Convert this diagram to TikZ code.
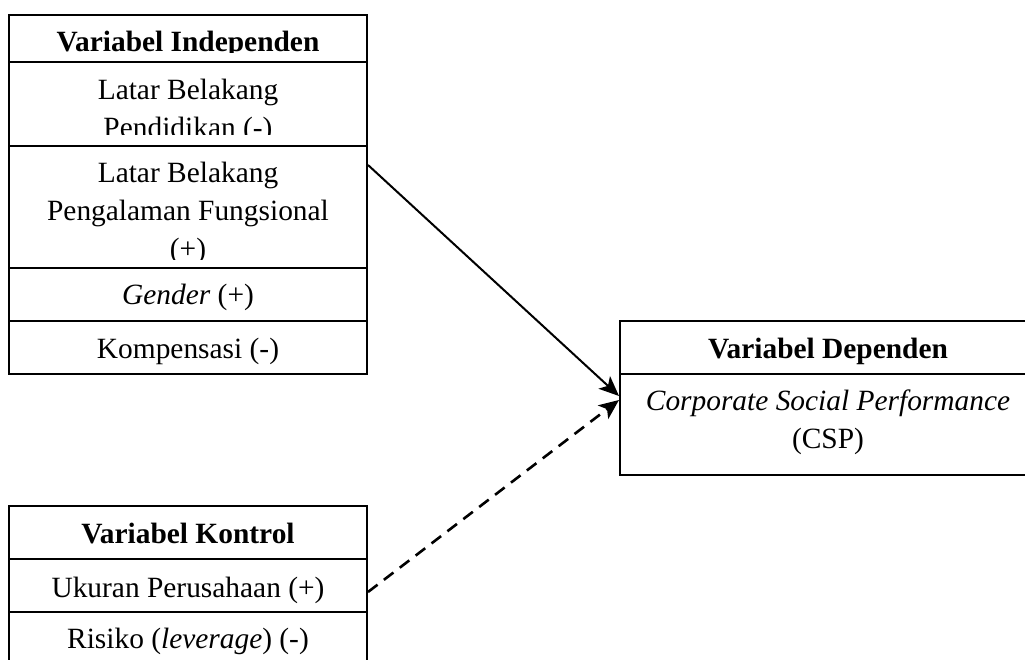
\documentclass[tikz,border=0pt]{standalone}
\usepackage{fontspec}
\setmainfont{Liberation Serif}
\usetikzlibrary{arrows.meta}
\begin{document}
\begin{tikzpicture}[x=1pt,y=-1pt,
  box/.style={line width=2.4pt,draw=black},
  cell/.style={anchor=base,inner sep=0pt,align=center,font=\fontsize{29.4}{38}\selectfont},
  head/.style={cell,font=\fontsize{29.4}{38}\selectfont\bfseries},
  link/.style={line width=2pt,-{Stealth[length=20pt,width=17pt,inset=5pt]}},
  dlink/.style={link,line width=2.6pt,dash pattern=on 12pt off 8pt}]
\useasboundingbox (0,0) rectangle (1025,660);
\clip (0,0) rectangle (1025,660);
% independent box
\draw[box] (9,15) rectangle (367,374);
\foreach \yy in {62,146,268,321} \draw[box] (9,\yy) -- (367,\yy);
\begin{scope}\clip (9,15) rectangle (367,53);
\node[head] (ind) at (188,52) {Variabel Independen};
\end{scope}
\begin{scope}\clip (9,62) rectangle (367,135);
\node[cell] (pend) at (188,138) {Latar Belakang\\Pendidikan (-)};
\end{scope}
\begin{scope}\clip (9,146) rectangle (367,260);
\node[cell] (peng) at (188,259) {Latar Belakang\\Pengalaman Fungsional\\(+)};
\end{scope}
\node[cell] (gen) at (188,305) {\textit{Gender} (+)};
\node[cell] (komp) at (188,358) {Kompensasi (-)};
% dependent box
\draw[box] (620,321) rectangle (1040,475);
\draw[box] (620,374) -- (1040,374);
\node[head] (dep) at (828,358) {Variabel Dependen};
\node[cell] (csp) at (828,448) {\textit{Corporate Social Performance}\\(CSP)};
% control box
\draw[box] (9,506) rectangle (367,700);
\foreach \yy in {559,612} \draw[box] (9,\yy) -- (367,\yy);
\node[head] (kon) at (188,543) {Variabel Kontrol};
\node[cell] (uk) at (188,597) {Ukuran Perusahaan (+)};
\node[cell] (ris) at (188,648) {Risiko (\textit{leverage}) (-)};
% connectors
\coordinate (s1) at (368,165);
\coordinate (e1) at (619,396);
\coordinate (s2) at (368,592);
\coordinate (e2) at (619,400);
\draw[link] (s1) -- (e1);
\draw[dlink] (s2) -- (e2);
\end{tikzpicture}
\end{document}
